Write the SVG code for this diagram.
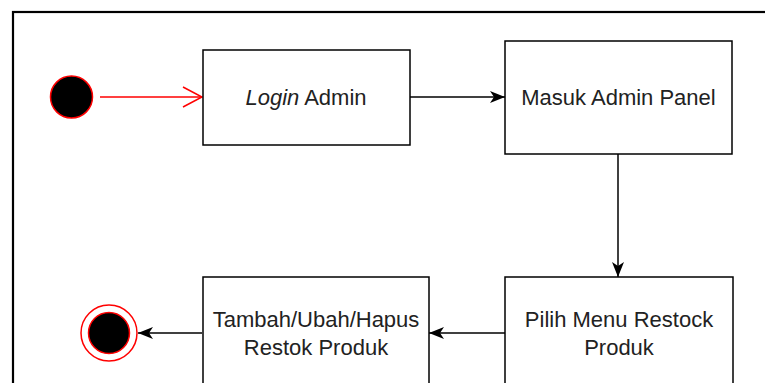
<svg xmlns="http://www.w3.org/2000/svg" width="765" height="383" viewBox="0 0 765 383">
<defs>
<style>
.box{fill:#fff;stroke:#000;stroke-width:1.5}
.lbl{font-family:"Liberation Sans",Arial,sans-serif;font-size:22px;fill:#222;text-anchor:middle}
.edge{fill:none;stroke:#000;stroke-width:1.5}
</style>
<marker id="arr" markerUnits="userSpaceOnUse" markerWidth="16" markerHeight="12" refX="15" refY="6" orient="auto">
<path d="M0,0 L15,6 L0,12 L4,6 Z" fill="#000"/>
</marker>
<marker id="open" markerUnits="userSpaceOnUse" markerWidth="22" markerHeight="22" refX="20" refY="11" orient="auto">
<path d="M1,1 L20,11 L1,21" fill="none" stroke="#ff0000" stroke-width="1.5"/>
</marker>
</defs>
<rect width="765" height="383" fill="#fff"/>
<rect x="13" y="12" width="800" height="420" fill="none" stroke="#000" stroke-width="2.2"/>
<g id="connectors">
<line x1="100" y1="97" x2="202" y2="97" stroke="#ff0000" stroke-width="1.5" marker-end="url(#open)"/>
<line class="edge" x1="410" y1="97" x2="505" y2="97" marker-end="url(#arr)"/>
<line class="edge" x1="618" y1="154" x2="618" y2="277" marker-end="url(#arr)"/>
<line class="edge" x1="505" y1="333" x2="429" y2="333" marker-end="url(#arr)"/>
<line class="edge" x1="202" y1="333" x2="138" y2="333" marker-end="url(#arr)"/>
</g>
<g id="start">
<circle cx="71.5" cy="97" r="21" fill="#000" stroke="#ff0000" stroke-width="1.5"/>
</g>
<g id="login">
<rect class="box" x="203" y="50" width="207" height="95"/>
<text class="lbl" x="306" y="105"><tspan font-style="italic">Login</tspan> Admin</text>
</g>
<g id="masuk">
<rect class="box" x="505" y="41" width="227" height="113"/>
<text class="lbl" x="618.5" y="105">Masuk Admin Panel</text>
</g>
<g id="pilih">
<rect class="box" x="505" y="277" width="228" height="130"/>
<text class="lbl" x="619" y="327">Pilih Menu Restock</text>
<text class="lbl" x="619" y="355">Produk</text>
</g>
<g id="tambah">
<rect class="box" x="203" y="277" width="226" height="130"/>
<text class="lbl" x="316" y="327">Tambah/Ubah/Hapus</text>
<text class="lbl" x="316" y="355">Restok Produk</text>
</g>
<g id="end">
<circle cx="109" cy="333" r="28" fill="#fff" stroke="#ff0000" stroke-width="1.5"/>
<circle cx="109" cy="333" r="20.5" fill="#000" stroke="#ff0000" stroke-width="1.5"/>
</g>
</svg>
